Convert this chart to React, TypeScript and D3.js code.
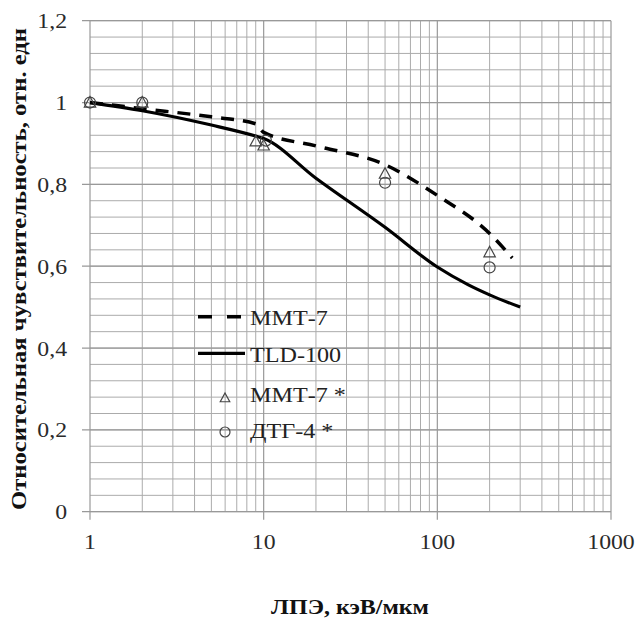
import React from "react";
import * as d3 from "d3";

const mmt7Line: [number, number][] = [
  [1, 1.0], [2, 0.985], [5, 0.965], [9, 0.948], [10, 0.927], [20, 0.894],
  [50, 0.848], [100, 0.773], [200, 0.68], [270, 0.62],
];
const tld100Line: [number, number][] = [
  [1, 1.0], [2, 0.98], [5, 0.945], [9, 0.918], [10, 0.912], [20, 0.815],
  [50, 0.695], [100, 0.598], [150, 0.555], [200, 0.53], [300, 0.5],
];
const mmt7Points: [number, number][] = [
  [1, 1.0], [2, 1.0], [9, 0.905], [10, 0.895], [50, 0.826], [200, 0.634],
];
const dtg4Points: [number, number][] = [
  [1, 1.0], [2, 1.0], [10.3, 0.907], [50, 0.804], [200, 0.597],
];
const xTicks = [1, 10, 100, 1000];
const yTicks = [0, 0.2, 0.4, 0.6, 0.8, 1.0, 1.2];
const legendLabels = ["ММТ-7", "TLD-100", "ММТ-7 *", "ДТГ-4 *"];
const xTitle = "ЛПЭ, кэВ/мкм";
const yTitle = "Относительная чувствительность, отн. едн";

const W = 638, H = 621;
const L = 90, R = 611, T = 20.7, B = 511.7;
const serif = "'Liberation Serif', 'Times New Roman', 'DejaVu Serif', serif";

export default function App() {
  const x = d3.scaleLog().domain([1, 1000]).range([L, R]);
  const y = d3.scaleLinear().domain([0, 1.2]).range([B, T]);

  const minorX: number[] = [];
  for (let dec = 1; dec < 1000; dec *= 10) {
    for (let k = 2; k <= 9; k++) minorX.push(dec * k);
  }
  const minorY = d3.range(0, 1.2001, 0.04);

  const line = d3
    .line<[number, number]>()
    .x((d) => x(d[0]))
    .y((d) => y(d[1]))
    .curve(d3.curveMonotoneX);

  const tri = (cx: number, cy: number, s: number) =>
    `M${cx},${cy - s}L${cx + s * 0.95},${cy + s * 0.75}L${cx - s * 0.95},${cy + s * 0.75}Z`;

  const fmt = (v: number) => (v === 0 ? "0" : v === 1 ? "1" : v.toFixed(1).replace(".", ","));
  const legendX = 250;
  const legendY = [325, 361.7, 401.7, 438];

  return (
    <svg width={W} height={H} style={{ display: "block", position: "absolute", left: 0, top: 0, background: "#fff", fontFamily: serif }}>
      <rect x={0} y={0} width={W} height={H} fill="#fff" />
      {minorX.map((v) => (
        <line key={"mx" + v} x1={x(v)} x2={x(v)} y1={T} y2={B} stroke="#ababab" strokeWidth={1} />
      ))}
      {minorY.map((v, i) => (
        <line key={"my" + i} x1={L} x2={R} y1={y(v)} y2={y(v)} stroke="#ababab" strokeWidth={1} />
      ))}
      {xTicks.map((v) => (
        <line key={"X" + v} x1={x(v)} x2={x(v)} y1={T} y2={B + 8} stroke="#999" strokeWidth={1.2} />
      ))}
      {yTicks.map((v) => (
        <line key={"Y" + v} x1={L - 8} x2={R} y1={y(v)} y2={y(v)} stroke="#999" strokeWidth={1.2} />
      ))}
      {xTicks.map((v) => (
        <text key={"xl" + v} transform={`translate(${x(v)},${549}) scale(1.08,1)`} textAnchor="middle"
          style={{ fontFamily: serif }} fontSize={22} fill="#2a2a2a">{String(v)}</text>
      ))}
      {yTicks.map((v) => (
        <text key={"yl" + v} transform={`translate(${67},${y(v) + 7.5}) scale(1.08,1)`} textAnchor="end"
          style={{ fontFamily: serif }} fontSize={22} fill="#2a2a2a">{fmt(v)}</text>
      ))}
      <path d={line(mmt7Line) || ""} fill="none" stroke="#000" strokeWidth={3.5} strokeDasharray="13,9" />
      <path d={line(tld100Line) || ""} fill="none" stroke="#000" strokeWidth={3.2} />
      {mmt7Points.map((d, i) => (
        <path key={"t" + i} d={tri(x(d[0]), y(d[1]), 6)} fill="none" stroke="#444" strokeWidth={1.2} />
      ))}
      {dtg4Points.map((d, i) => (
        <circle key={"c" + i} cx={x(d[0])} cy={y(d[1])} r={5.5} fill="none" stroke="#444" strokeWidth={1.2} />
      ))}
      <line x1={198} x2={242} y1={316.7} y2={316.7} stroke="#000" strokeWidth={3.5} strokeDasharray="14,15" />
      <line x1={198} x2={245} y1={353.3} y2={353.3} stroke="#000" strokeWidth={3.2} />
      <path d={tri(225, 398, 5)} fill="none" stroke="#444" strokeWidth={1.2} />
      <circle cx={225} cy={432} r={5} fill="none" stroke="#444" strokeWidth={1.2} />
      {legendLabels.map((t, i) => (
        <text key={"lg" + i} transform={`translate(${legendX},${legendY[i]}) scale(1.15,1)`}
          style={{ fontFamily: serif }} fontSize={21} fill="#222">{t}</text>
      ))}
      <text transform={`translate(350,614) scale(1.2,1)`} textAnchor="middle" style={{ fontFamily: serif }}
        fontWeight="bold" fontSize={20} fill="#111">{xTitle}</text>
      <text transform={`translate(25.5,269) rotate(-90)`} textAnchor="middle" style={{ fontFamily: serif }}
        fontWeight="bold" fontSize={21} fill="#111" textLength={482} lengthAdjust="spacingAndGlyphs">{yTitle}</text>
    </svg>
  );
}
